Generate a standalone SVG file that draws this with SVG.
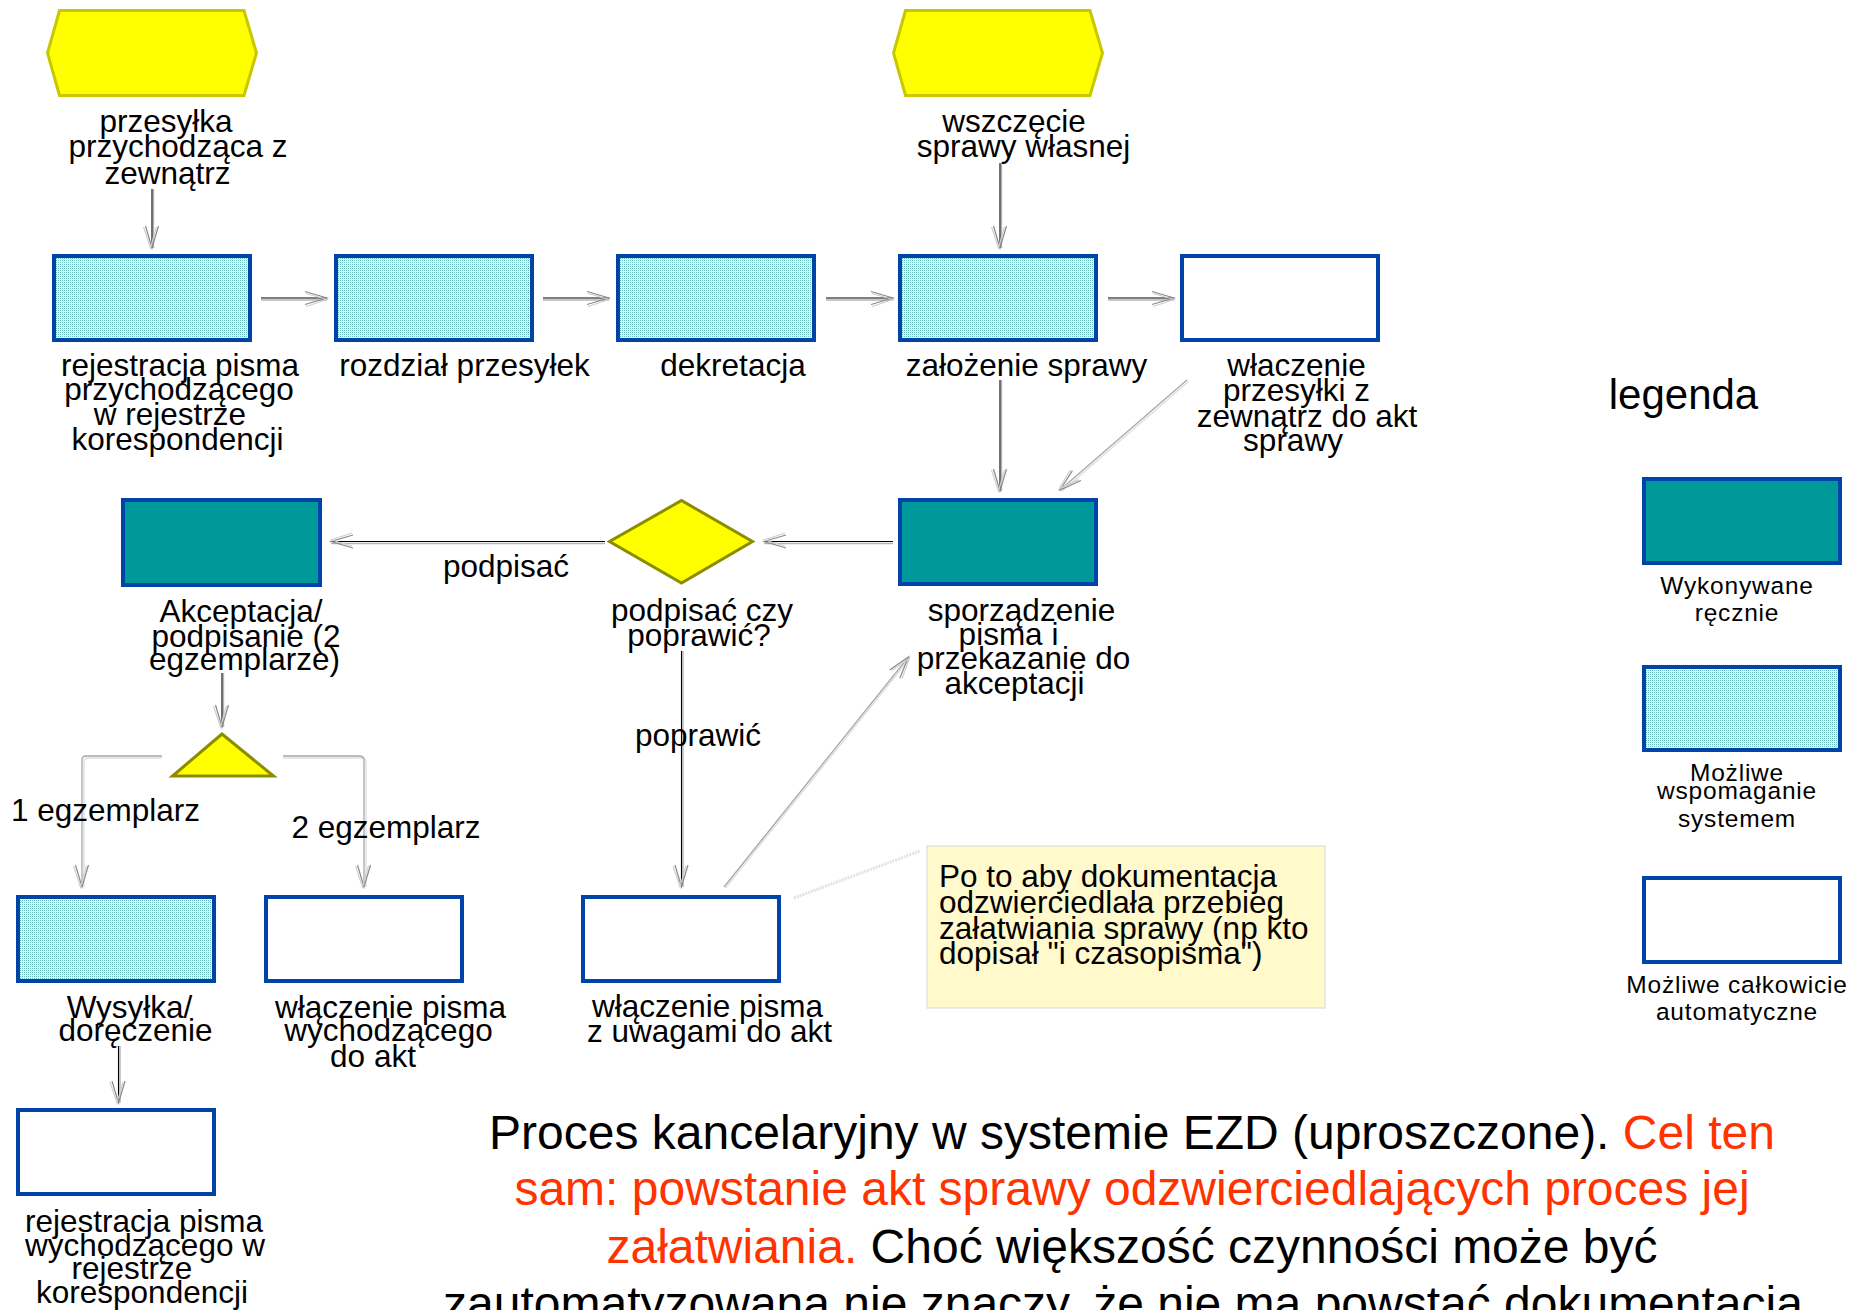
<svg xmlns="http://www.w3.org/2000/svg" width="1865" height="1310" viewBox="0 0 1865 1310">
<defs>
<style>
.t{font-family:"Liberation Sans",Arial,sans-serif;font-size:31.5px;fill:#000;text-anchor:middle}
.n{font-family:"Liberation Sans",Arial,sans-serif;font-size:31.5px;fill:#000}
.lg{font-family:"Liberation Sans",Arial,sans-serif;font-size:24.5px;letter-spacing:0.8px;fill:#000;text-anchor:middle}
.ttl{font-family:"Liberation Sans",Arial,sans-serif;font-size:48px;fill:#000;text-anchor:middle}
.red{fill:#ff3300}
.b{stroke:#0044aa;stroke-width:4}
.tl{fill:#009999}
.ht{fill:url(#dots)}
.wh{fill:#ffffff}
.hex{fill:#ffff00;stroke:#c8c800;stroke-width:3}
.dec{fill:#ffff00;stroke:#8c8c00;stroke-width:3}
.ln{fill:none;stroke:#000;stroke-width:1.1;marker-end:url(#ah)}
.sh{fill:none;stroke:#b4b4b4;stroke-width:1.4}
.gl{fill:none;stroke:#a8a8a8;stroke-width:1.3;marker-end:url(#ah)}
.gs{fill:none;stroke:#dedede;stroke-width:1.3}
</style>
<pattern id="dots" width="2" height="2" patternUnits="userSpaceOnUse">
<rect width="2" height="2" fill="#ffffff"/>
<rect width="1" height="1" fill="#62bcbc"/>
<rect x="1" y="1" width="1" height="1" fill="#d4ecec"/>
</pattern>
<marker id="ah" viewBox="-26 -10 28 20" markerWidth="28" markerHeight="20" refX="0" refY="0" markerUnits="userSpaceOnUse" orient="auto">
<path d="M-22,-6.5 L0,0 L-22,6.5" fill="none" stroke="#8a8a8a" stroke-width="1.2"/>
<path d="M-21,-4.5 L0,1.5 L-21,8.5" fill="none" stroke="#d0d0d0" stroke-width="1.2"/>
</marker>
</defs>
<rect width="1865" height="1310" fill="#ffffff"/>

<g id="connectors">
<g><path class="sh" d="M153.5,189 V248"/><path class="ln" d="M152,189 V248"/></g>
<g><path class="sh" d="M261,300 H327"/><path class="ln" d="M261,298 H327"/></g>
<g><path class="sh" d="M543,300 H609"/><path class="ln" d="M543,298 H609"/></g>
<g><path class="sh" d="M826,300 H893"/><path class="ln" d="M826,298 H893"/></g>
<g><path class="sh" d="M1108,300 H1174"/><path class="ln" d="M1108,298 H1174"/></g>
<g><path class="sh" d="M1001.5,163 V248"/><path class="ln" d="M1000,163 V248"/></g>
<g><path class="sh" d="M1001.5,380 V491"/><path class="ln" d="M1000,380 V491"/></g>
<g><path class="gs" d="M1188.5,381.5 L1061.5,491.5"/><path class="gl" d="M1187,380 L1060,490"/></g>
<g><path class="sh" d="M893,543.5 H764"/><path class="ln" d="M893,541.5 H764"/></g>
<g><path class="sh" d="M605,543.5 H331"/><path class="ln" d="M605,541.5 H331"/></g>
<g><path class="sh" d="M223.5,673 V727"/><path class="ln" d="M222,673 V727"/></g>
<g><path class="gs" d="M162,758 H88 Q84,758 84,762 V887"/><path class="gl" d="M162,756 H86 Q82,756 82,760 V887"/></g>
<g><path class="gs" d="M283,758 H361 Q366,758 366,762 V887"/><path class="gl" d="M283,756 H359 Q364,756 364,760 V887"/></g>
<g><path class="sh" d="M683,651 V887"/><path class="ln" d="M681.5,651 V887"/></g>
<g><path class="gs" d="M725.5,888 L910,658"/><path class="gl" d="M724,887 L908.5,657"/></g>
<g><path class="sh" d="M120,1046 V1103"/><path class="ln" d="M118.5,1046 V1103"/></g>
<path d="M794,898 L920,851" fill="none" stroke="#e2e2e2" stroke-width="3" stroke-dasharray="2,1"/>
</g>

<g id="start1"><polygon class="hex" points="47.5,53 59.5,10.5 244,10.5 256.5,53 244,95.5 59.5,95.5"/>
<text class="t" x="166" y="132">przesyłka</text><text class="t" x="178" y="157">przychodząca z</text><text class="t" x="167.5" y="184">zewnątrz</text></g>

<g id="start2"><polygon class="hex" points="893.5,53 905.5,10.5 1090,10.5 1102.5,53 1090,95.5 905.5,95.5"/>
<text class="t" x="1014" y="132">wszczęcie</text><text class="t" x="1023.5" y="157">sprawy własnej</text></g>

<g id="rej-przych"><rect class="b ht" x="54" y="256" width="196" height="84"/>
<text class="t" x="180" y="376">rejestracja pisma</text><text class="t" x="179" y="400">przychodzącego</text><text class="t" x="170" y="425">w rejestrze</text><text class="t" x="177.5" y="450">korespondencji</text></g>

<g id="rozdzial"><rect class="b ht" x="336" y="256" width="196" height="84"/>
<text class="t" x="464.5" y="376">rozdział przesyłek</text></g>

<g id="dekretacja"><rect class="b ht" x="618" y="256" width="196" height="84"/>
<text class="t" x="733" y="376">dekretacja</text></g>

<g id="zalozenie"><rect class="b ht" x="900" y="256" width="196" height="84"/>
<text class="t" x="1026.5" y="376">założenie sprawy</text></g>

<g id="wlaczenie-przes"><rect class="b wh" x="1182" y="256" width="196" height="84"/>
<text class="t" x="1296.5" y="376">właczenie</text><text class="t" x="1296.5" y="401">przesyłki z</text><text class="t" x="1307" y="427">zewnątrz do akt</text><text class="t" x="1293" y="451">sprawy</text></g>

<g id="sporzadzenie"><rect class="b tl" x="900" y="500" width="196" height="84"/>
<text class="t" x="1021.5" y="621">sporządzenie</text><text class="t" x="1008.5" y="645">pisma i</text><text class="t" x="1023.5" y="669">przekazanie do</text><text class="t" x="1014.5" y="693.5">akceptacji</text></g>

<g id="decyzja"><polygon class="dec" points="609.5,541.5 681.5,500.5 752.5,541.5 681.5,583"/>
<text class="t" x="702" y="621">podpisać czy</text><text class="t" x="699" y="646">poprawić?</text></g>

<g id="akceptacja"><rect class="b tl" x="123" y="500" width="197" height="85"/>
<text class="t" x="241" y="621.5">Akceptacja/</text><text class="t" x="246" y="646.5">podpisanie (2</text><text class="t" x="244.5" y="670">egzemplarze)</text></g>

<g id="lbl-podpisac"><text class="t" x="506" y="576.5">podpisać</text></g>
<g id="lbl-poprawic"><text class="t" x="698" y="746">poprawić</text></g>

<g id="rozgalezienie"><polygon class="dec" points="222,734 172.5,776 273.5,776"/></g>
<g id="lbl-1egz"><text class="t" x="105.5" y="820.5">1 egzemplarz</text></g>
<g id="lbl-2egz"><text class="t" x="386" y="838">2 egzemplarz</text></g>

<g id="wysylka"><rect class="b ht" x="18" y="897" width="196" height="84"/>
<text class="t" x="129.5" y="1018">Wysyłka/</text><text class="t" x="135.5" y="1041">doręczenie</text></g>

<g id="wlaczenie-wych"><rect class="b wh" x="266" y="897" width="196" height="84"/>
<text class="t" x="390.5" y="1018">włączenie pisma</text><text class="t" x="388.5" y="1041">wychodzącego</text><text class="t" x="373" y="1066.5">do akt</text></g>

<g id="wlaczenie-uwagi"><rect class="b wh" x="583" y="897" width="196" height="84"/>
<text class="t" x="707.5" y="1016.5">włączenie pisma</text><text class="t" x="709.5" y="1041.5">z uwagami do akt</text></g>

<g id="rej-wych"><rect class="b wh" x="18" y="1110" width="196" height="84"/>
<text class="t" x="144" y="1231.5">rejestracja pisma</text><text class="t" x="145" y="1256">wychodzącego w</text><text class="t" x="132" y="1279">rejestrze</text><text class="t" x="142" y="1303">korespondencji</text></g>

<g id="notatka"><rect x="927" y="846" width="398" height="162" fill="#fff9cc" stroke="#dcdcdc" stroke-width="1.2"/>
<text class="n" x="939" y="887">Po to aby dokumentacja</text><text class="n" x="939" y="912.5">odzwierciedlała przebieg</text><text class="n" x="939" y="938.5">załatwiania sprawy (np kto</text><text class="n" x="939" y="964">dopisał "i czasopisma")</text></g>

<g id="legenda">
<text x="1683.5" y="409" font-family="Liberation Sans, Arial, sans-serif" font-size="42" text-anchor="middle">legenda</text>
<rect class="b tl" x="1644" y="479" width="196" height="84"/>
<text class="lg" x="1737" y="594">Wykonywane</text><text class="lg" x="1737" y="621">ręcznie</text>
<rect class="b ht" x="1644" y="667" width="196" height="83"/>
<text class="lg" x="1737" y="780.5">Możliwe</text><text class="lg" x="1737" y="799">wspomaganie</text><text class="lg" x="1737" y="827">systemem</text>
<rect class="b wh" x="1644" y="878" width="196" height="84"/>
<text class="lg" x="1737" y="993">Możliwe całkowicie</text><text class="lg" x="1737" y="1019.5">automatyczne</text>
</g>

<g id="opis">
<text class="ttl" x="1132" y="1149">Proces kancelaryjny w systemie EZD (uproszczone). <tspan class="red">Cel ten</tspan></text>
<text class="ttl red" x="1132" y="1205">sam: powstanie akt sprawy odzwierciedlających proces jej</text>
<text class="ttl" x="1132" y="1263"><tspan class="red">załatwiania.</tspan> Choć większość czynności może być</text>
<text class="ttl" x="1123" y="1320">zautomatyzowana nie znaczy, że nie ma powstać dokumentacja</text>
</g>
</svg>
